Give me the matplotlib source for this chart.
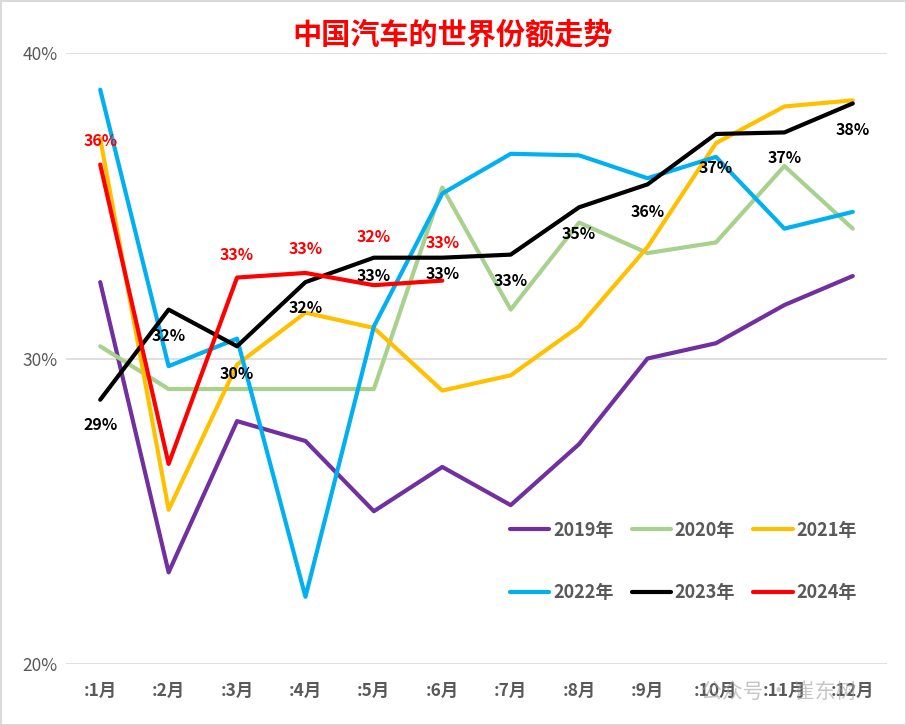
import numpy as np
import matplotlib.pyplot as plt

plt.rcParams['font.family'] = ['Noto Sans CJK SC', 'DejaVu Sans']

months = [':1月', ':2月', ':3月', ':4月', ':5月', ':6月', ':7月', ':8月', ':9月', ':10月', ':11月', ':12月']

# monthly share, %
y2019 = [32.5, 23.0, 27.95, 27.3, 25.0, 26.45, 25.2, 27.2, 30.0, 30.5, 31.75, 32.7]
y2020 = [30.4, 29.0, 29.0, 29.0, 29.0, 35.6, 31.6, 34.45, 33.45, 33.8, 36.3, 34.25]
y2021 = [37.2, 25.05, 29.8, 31.5, 31.0, 28.95, 29.45, 31.05, 33.65, 37.05, 38.25, 38.45]
y2022 = [38.8, 29.75, 30.65, 22.2, 31.05, 35.4, 36.7, 36.65, 35.9, 36.6, 34.25, 34.8]
y2023 = [28.65, 31.6, 30.4, 32.5, 33.3, 33.3, 33.4, 34.95, 35.7, 37.35, 37.4, 38.35]
y2024 = [36.35, 26.55, 32.65, 32.8, 32.4, 32.55]

series = [('2019年', y2019, '#7030A0'),
          ('2020年', y2020, '#A9D18E'),
          ('2021年', y2021, '#FFC000'),
          ('2022年', y2022, '#00B0F0'),
          ('2023年', y2023, '#000000'),
          ('2024年', y2024, '#FF0000')]

# data labels: (month index, offset below point in pixels)
lab2023 = [(0, 25), (1, 26), (2, 28), (3, 26), (4, 18), (5, 16), (6, 26), (7, 27), (8, 28), (9, 34), (10, 26), (11, 27)]
lab2024 = [(0, -24), (2, -23), (3, -24), (4, -48), (5, -38)]

fig = plt.figure(figsize=(9.06, 7.25), dpi=100)
fig.patch.set_edgecolor('#d9d9d9')
fig.patch.set_linewidth(2)
ax = fig.add_axes([66/906, 61/725, 821/906, 611/725])

x = np.arange(len(months))
lines = []
for name, vals, col in series:
    ln, = ax.plot(x[:len(vals)], vals, color=col, lw=3, label=name, solid_capstyle='round')
    lines.append(ln)

for i, off in lab2023:
    ax.annotate('%d%%' % round(y2023[i]), (x[i], y2023[i]), xytext=(0, -off), textcoords='offset pixels',
                ha='center', va='center', fontsize=11.5, fontweight='bold', color='black')
for i, off in lab2024:
    ax.annotate('%d%%' % round(y2024[i]), (x[i], y2024[i]), xytext=(0, -off), textcoords='offset pixels',
                ha='center', va='center', fontsize=11.5, fontweight='bold', color='red')

ax.set_xlim(-0.5, 11.5)
ax.set_ylim(20, 40)
ax.set_yticks([20, 30, 40])
ax.set_yticklabels(['20%', '30%', '40%'])
ax.set_xticks(x)
ax.set_xticklabels(months, fontweight='bold')
ax.tick_params(length=0, labelcolor='#595959', labelsize=12.5)
ax.tick_params(axis='x', pad=13)
ax.tick_params(axis='y', pad=6)
ax.grid(axis='y', color='#d9d9d9', lw=1.2)
ax.set_axisbelow(True)
for s in ax.spines.values():
    s.set_visible(False)

# row-wise legend order
order = [0, 3, 1, 4, 2, 5]
leg = ax.legend([lines[k] for k in order], [series[k][0] for k in order],
                ncol=3, frameon=False, loc='center', bbox_to_anchor=(0.752, 0.168),
                handlelength=2.2, labelspacing=2.4, columnspacing=1.0, handletextpad=0.2,
                prop={'size': 13, 'weight': 'bold'})
for t in leg.get_texts():
    t.set_color('#595959')

fig.text(0.5, 0.952, '中国汽车的世界份额走势', ha='center', va='center', fontsize=21,
         fontweight='bold', color='red')
fig.text(0.86, 0.045, '公众号 · 崔东树', ha='center', va='center', fontsize=15,
         color='#a0a0a0', alpha=0.6)

fig.savefig('out.png', dpi=100)
